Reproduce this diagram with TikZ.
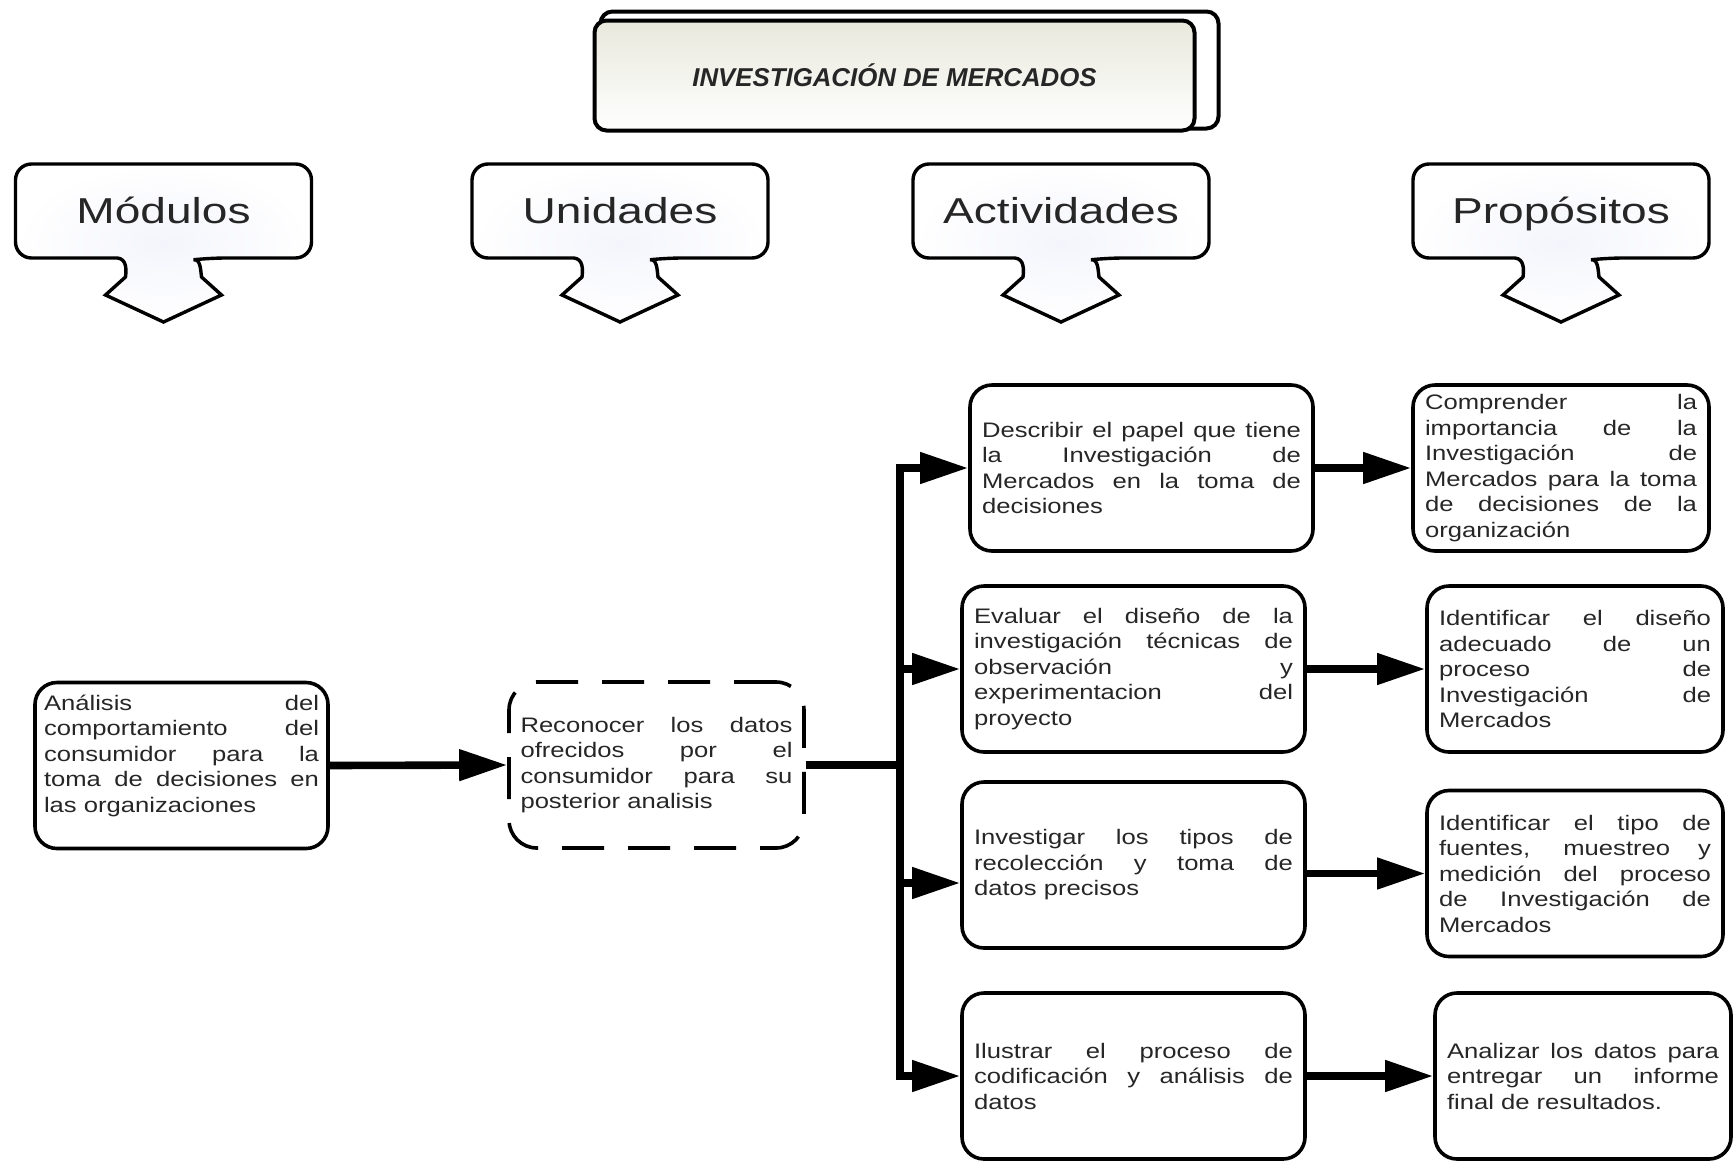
\documentclass[tikz,border=0pt]{standalone}
\usepackage{fontspec}
\setmainfont{Liberation Sans}
\newfontfamily\boxfont[FakeStretch=1.22]{Liberation Sans}
\newfontfamily\headfont[FakeStretch=1.28]{Liberation Sans}
\usetikzlibrary{arrows.meta,calc,backgrounds}
\definecolor{titletop}{RGB}{232,232,220}
\definecolor{headtint}{RGB}{244,245,252}
\definecolor{ink}{RGB}{38,38,38}
\setlength{\parindent}{0pt}
\tolerance=10000 \hbadness=10000 \hyphenpenalty=10000
\begin{document}
\begin{tikzpicture}[x=0.5pt,y=-0.5pt,
topic/.style={
% the title plate:
rectangle,
draw=black,
line width=2pt,
rounded corners=6pt,
minimum width=300pt,
minimum height=55pt,
top color=titletop,
bottom color=white,
text=ink,
font=\fontsize{12.9}{15}\selectfont\bfseries\itshape
},
card/.style={
rectangle,
draw=black,
line width=1.8pt,
rounded corners=11pt,
inner xsep=6pt,
minimum height=83pt,
text width=#1,
align=justify,
text=ink,
font=\boxfont\fontsize{10.5}{12.75}\selectfont
},
dashcard/.style={
card=#1,
dash pattern=on 21pt off 12pt,
rounded corners=14pt
},
link/.style={line width=3.8pt,-{Triangle[length=24pt,width=15pt]}},
bar/.style={line width=3.8pt},
% callout with a notched arrow under it
head/.pic={
\path[draw=black,line width=1.7pt,inner color=headtint,outer color=white]
(-46,47) [rounded corners=8pt] -- (-148,47) -- (-148,-47) -- (148,-47) -- (148,47) -- (46,47)
[sharp corners] .. controls (37,48) and (37,58) .. (38,66) -- (58,84) -- (0,111) -- (-58,84) -- (-38,66)
.. controls (-37,58) and (-37,48) .. (-46,47) -- cycle;
\node[anchor=base,text=ink,font=\headfont\fontsize{18}{20}\selectfont] (-txt) at (0,12) {#1};
}
]
\useasboundingbox (0,0) rectangle (1734,1162);

% title
\node[topic] (title) at (894.5,75.5) {INVESTIGACIÓN DE MERCADOS};
\begin{scope}[on background layer]
\draw[line width=2pt,rounded corners=6pt,fill=white] ($(title.north west)+(8,-7)$) rectangle ($(title.south east)+(22,-4)$);
\end{scope}

% column heads
\pic (hmod) at (163.5,211) {head=Módulos};
\pic (hund) at (620,211) {head=Unidades};
\pic (hact) at (1061,211) {head=Actividades};
\pic (hpro) at (1561,211) {head=Propósitos};

% module and unit
\node[card=137.5pt,inner xsep=4.5pt] (anl) at (181.5,765.5) {Análisis del\linebreak comportamiento del\linebreak consumidor para la\linebreak toma de decisiones en\linebreak las organizaciones\par\vspace{10pt}};
\node[dashcard=136pt,inner xsep=5.75pt] (rec) at (656.5,765) {Reconocer los datos\linebreak ofrecidos por el\linebreak consumidor para su\linebreak posterior analisis};

% activities
\node[card=159.5pt] (a1) at (1141.5,468) {Describir el papel que tiene\linebreak la Investigación de\linebreak Mercados en la toma de\linebreak decisiones};
\node[card=159.5pt] (a2) at (1133.5,669) {Evaluar el diseño de la\linebreak investigación técnicas de\linebreak observación y\linebreak experimentacion del\linebreak proyecto};
\node[card=159.5pt] (a3) at (1133.5,865) {Investigar los tipos de\linebreak recolección y toma de\linebreak datos precisos};
\node[card=159.5pt] (a4) at (1133.5,1076) {Ilustrar el proceso de\linebreak codificación y análisis de\linebreak datos};

% purposes
\node[card=136pt] (p1) at (1561,468) {Comprender la\linebreak importancia de la\linebreak Investigación de\linebreak Mercados para la toma\linebreak de decisiones de la\linebreak organización};
\node[card=136pt] (p2) at (1575,669) {Identificar el diseño\linebreak adecuado de un\linebreak proceso de\linebreak Investigación de\linebreak Mercados};
\node[card=136pt] (p3) at (1575,873.5) {Identificar el tipo de\linebreak fuentes, muestreo y\linebreak medición del proceso\linebreak de Investigación de\linebreak Mercados};
\node[card=136pt] (p4) at (1583,1076) {Analizar los datos para\linebreak entregar un informe\linebreak final de resultados.};

% connectors
\coordinate (fork) at ($(rec.east)+(94,0)$);
\draw[link] (anl.east) -- (rec.west);
\draw[bar] (rec.east) -- (fork);
\draw[link] (fork) |- (a1.west);
\draw[link] (fork) |- (a2.west);
\draw[link] (fork) |- ([yshift=-9pt]a3.west);
\draw[link] (fork) |- (a4.west);
\draw[link] (a1.east) -- (p1.west);
\draw[link] (a2.east) -- (p2.west);
\draw[link] (a3.east |- p3.west) -- (p3.west);
\draw[link] (a4.east) -- (p4.west);
\end{tikzpicture}
\end{document}
